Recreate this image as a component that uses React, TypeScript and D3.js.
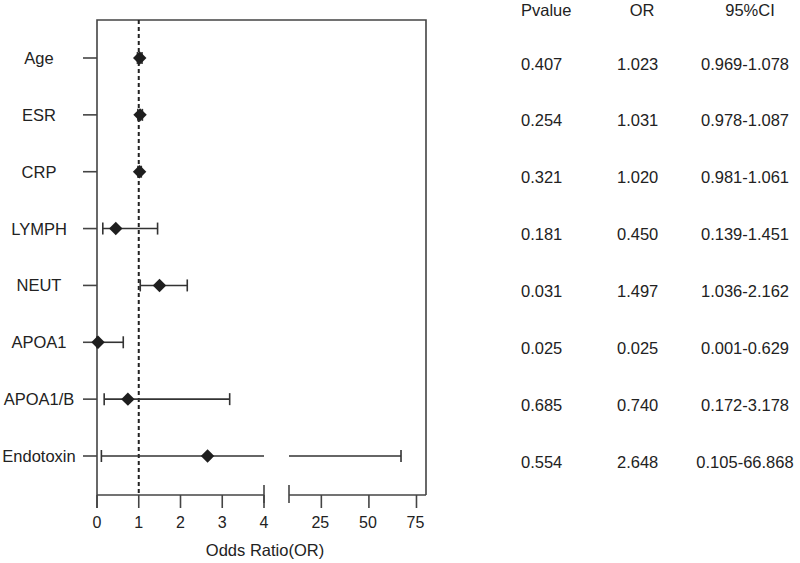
import { useEffect, useRef } from 'react';
import * as d3 from 'd3';

const labels = ['Age', 'ESR', 'CRP', 'LYMPH', 'NEUT', 'APOA1', 'APOA1/B', 'Endotoxin'];
const orValues = [1.023, 1.031, 1.02, 0.45, 1.497, 0.025, 0.74, 2.648];
const ciLower = [0.969, 0.978, 0.981, 0.139, 1.036, 0.001, 0.172, 0.105];
const ciUpper = [1.078, 1.087, 1.061, 1.451, 2.162, 0.629, 3.178, 66.868];
const pValues = ['0.407', '0.254', '0.321', '0.181', '0.031', '0.025', '0.685', '0.554'];
const orText = ['1.023', '1.031', '1.020', '0.450', '1.497', '0.025', '0.740', '2.648'];
const ciText = [
  '0.969-1.078',
  '0.978-1.087',
  '0.981-1.061',
  '0.139-1.451',
  '1.036-2.162',
  '0.001-0.629',
  '0.172-3.178',
  '0.105-66.868',
];
const lowTicks = [0, 1, 2, 3, 4];
const highTicks = [25, 50, 75];

const FONT = 'Liberation Sans, Arial, sans-serif';
const LINE = '#333';

export default function App() {
  const svgRef = useRef<SVGSVGElement>(null);

  useEffect(() => {
    if (!svgRef.current) return;
    const svg = d3.select(svgRef.current);
    svg.selectAll('*').remove();

    const width = 800;
    const height = 563;
    svg.attr('viewBox', `0 0 ${width} ${height}`);

    const left = 97;
    const right = 426;
    const top = 20;
    const axisY = 495;

    // broken x axis: two linear pieces
    const x1 = d3.scaleLinear().domain([0, 4]).range([left, 264]);
    const x2 = d3.scaleLinear().domain([8, 80]).range([289, right]);
    const xPos = (v: number) => (v <= 4 ? x1(v) : x2(v));

    const y = d3.scalePoint<string>().domain(labels).range([58, 456]);

    // frame
    svg
      .append('path')
      .attr('d', `M${left},${axisY + 13}V${top}H${right}V${axisY}`)
      .attr('fill', 'none')
      .attr('stroke', '#444')
      .attr('stroke-width', 1.6);

    // x axis pieces
    const axisG = svg.append('g').attr('stroke', '#444').attr('stroke-width', 1.6);
    axisG.append('line').attr('x1', x1(0)).attr('x2', x1(4)).attr('y1', axisY).attr('y2', axisY);
    axisG.append('line').attr('x1', x2(8)).attr('x2', right).attr('y1', axisY).attr('y2', axisY);
    lowTicks.forEach((t) => {
      axisG.append('line').attr('x1', x1(t)).attr('x2', x1(t)).attr('y1', axisY).attr('y2', axisY + 13);
    });
    highTicks.forEach((t) => {
      axisG.append('line').attr('x1', x2(t)).attr('x2', x2(t)).attr('y1', axisY).attr('y2', axisY + 13);
    });
    // break caps
    [x1(4), x2(8)].forEach((cx) => {
      axisG.append('line').attr('x1', cx).attr('x2', cx).attr('y1', axisY - 10).attr('y2', axisY + 8);
    });

    const tickText = svg
      .append('g')
      .attr('font-family', FONT)
      .attr('font-size', 16)
      .attr('fill', '#222')
      .attr('text-anchor', 'middle');
    lowTicks.forEach((t) => {
      tickText.append('text').attr('x', x1(t)).attr('y', 528).text(t);
    });
    highTicks.forEach((t) => {
      tickText.append('text').attr('x', x2(t) - 1).attr('y', 528).text(t);
    });

    svg
      .append('text')
      .attr('x', 265)
      .attr('y', 556)
      .attr('text-anchor', 'middle')
      .attr('font-family', FONT)
      .attr('font-size', 16.5)
      .attr('fill', '#222')
      .text('Odds Ratio(OR)');

    // y ticks + labels
    labels.forEach((lab) => {
      const yy = y(lab)!;
      svg
        .append('line')
        .attr('x1', 83)
        .attr('x2', left)
        .attr('y1', yy)
        .attr('y2', yy)
        .attr('stroke', '#444')
        .attr('stroke-width', 1.6);
      svg
        .append('text')
        .attr('x', 39)
        .attr('y', yy + 6)
        .attr('text-anchor', 'middle')
        .attr('font-family', FONT)
        .attr('font-size', 16.5)
        .attr('fill', '#222')
        .text(lab);
    });

    // reference line at OR = 1
    svg
      .append('line')
      .attr('x1', x1(1))
      .attr('x2', x1(1))
      .attr('y1', top)
      .attr('y2', axisY)
      .attr('stroke', '#222')
      .attr('stroke-width', 2)
      .attr('stroke-dasharray', '4,3');

    // CI bars
    const bars = svg.append('g').attr('stroke', LINE).attr('stroke-width', 1.6).attr('fill', 'none');
    labels.forEach((lab, i) => {
      const yy = y(lab)!;
      const lo = ciLower[i];
      const hi = ciUpper[i];
      if (hi > 4) {
        bars.append('line').attr('x1', xPos(lo)).attr('x2', x1(4)).attr('y1', yy).attr('y2', yy);
        bars.append('line').attr('x1', x2(8)).attr('x2', xPos(hi)).attr('y1', yy).attr('y2', yy);
      } else {
        bars.append('line').attr('x1', xPos(lo)).attr('x2', xPos(hi)).attr('y1', yy).attr('y2', yy);
      }
      [lo, hi].forEach((v) => {
        bars
          .append('line')
          .attr('x1', xPos(v))
          .attr('x2', xPos(v))
          .attr('y1', yy - 6)
          .attr('y2', yy + 6);
      });
    });

    // OR diamonds
    const diamond = d3.symbol().type(d3.symbolDiamond2).size(115);
    svg
      .append('g')
      .selectAll('path')
      .data(labels)
      .join('path')
      .attr('d', diamond)
      .attr('transform', (d, i) => `translate(${xPos(orValues[i])},${y(d)})`)
      .attr('fill', '#1e1e1e');

    // table
    const table = svg
      .append('g')
      .attr('font-family', FONT)
      .attr('font-size', 16.5)
      .attr('fill', '#222');
    table.append('text').attr('x', 521).attr('y', 16).text('Pvalue');
    table.append('text').attr('x', 642).attr('y', 16).attr('text-anchor', 'middle').text('OR');
    table.append('text').attr('x', 750).attr('y', 16).attr('text-anchor', 'middle').text('95%CI');
    labels.forEach((lab, i) => {
      const yy = y(lab)! + 11.5;
      table.append('text').attr('x', 521).attr('y', yy).text(pValues[i]);
      table.append('text').attr('x', 617).attr('y', yy).text(orText[i]);
      table.append('text').attr('x', 745).attr('y', yy).attr('text-anchor', 'middle').text(ciText[i]);
    });
  }, []);

  return (
    <svg
      ref={svgRef}
      width={800}
      height={563}
      style={{ position: 'absolute', left: 0, top: 0, background: '#fff' }}
    />
  );
}
